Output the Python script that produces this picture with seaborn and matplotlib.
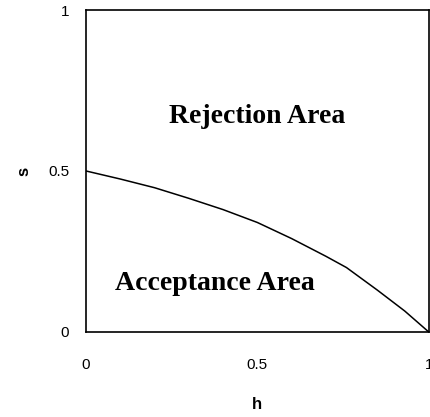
import seaborn as sns
import pandas as pd
import matplotlib.pyplot as plt

# boundary curve
h_vals = [0.0, 0.1, 0.2, 0.3, 0.4, 0.5, 0.6, 0.7, 0.76, 0.85, 0.93, 1.0]
s_vals = [0.5, 0.475, 0.448, 0.415, 0.38, 0.34, 0.29, 0.235, 0.2, 0.13, 0.065, 0.0]

tick_vals = [0, 0.5, 1]
tick_labels = ['0', '0.5', '1']

df = pd.DataFrame({'h': h_vals, 's': s_vals})

sns.set_style('white')
plt.rcParams['font.family'] = ['Liberation Sans', 'DejaVu Sans']
plt.rcParams['text.color'] = 'black'
plt.rcParams['axes.labelcolor'] = 'black'

fig = plt.figure(figsize=(4.3, 4.17), dpi=100)
ax = fig.add_axes([0.2, 0.204, 0.797, 0.772])

sns.lineplot(data=df, x='h', y='s', color='black', linewidth=1.1, ax=ax)

ax.set_xlim(0, 1)
ax.set_ylim(0, 1)
ax.set_xticks(tick_vals)
ax.set_xticklabels(tick_labels)
ax.set_yticks(tick_vals)
ax.set_yticklabels(tick_labels)
ax.tick_params(direction='in', length=4, width=1, colors='black', labelsize=11)
ax.tick_params(axis='x', pad=19)
ax.tick_params(axis='y', pad=12)

for sp in ax.spines.values():
    sp.set_color('black')
    sp.set_linewidth(1.2)

ax.set_xlabel('h', fontsize=12, fontweight='bold', labelpad=18)
ax.set_ylabel('s', fontsize=12, fontweight='bold', labelpad=12)

ax.text(0.5, 0.67, 'Rejection Area', ha='center', va='center',
        fontsize=20, fontweight='bold', family='Liberation Serif')
ax.text(0.377, 0.15, 'Acceptance Area', ha='center', va='center',
        fontsize=20, fontweight='bold', family='Liberation Serif')

fig.savefig('out.png', dpi=100, facecolor='white')
